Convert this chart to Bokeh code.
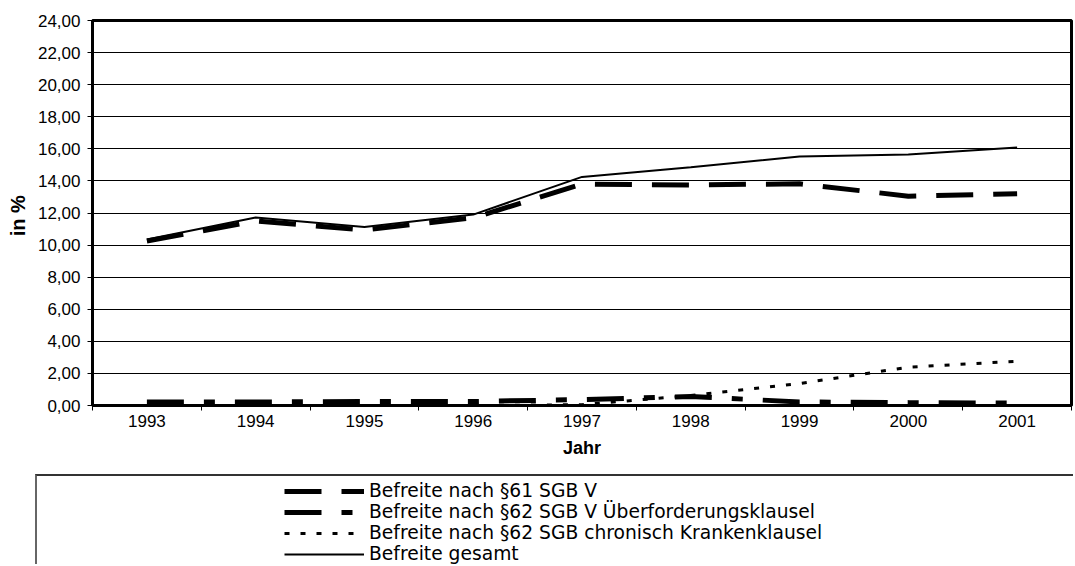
from bokeh.plotting import figure
from bokeh.models import Range1d, FixedTicker, Legend, LegendItem
from bokeh.layouts import column
from bokeh.embed import file_html
from bokeh.resources import INLINE

# ---- data ----
years = ["1993", "1994", "1995", "1996", "1997", "1998", "1999", "2000", "2001"]
s61 = [10.25, 11.50, 10.95, 11.70, 13.80, 13.75, 13.82, 13.05, 13.20]
s62_ueber = [0.22, 0.22, 0.25, 0.25, 0.37, 0.56, 0.22, 0.18, 0.15]
s62_chron = [0.00, 0.00, 0.00, 0.00, 0.05, 0.62, 1.37, 2.39, 2.76]
gesamt = [10.35, 11.72, 11.12, 11.90, 14.25, 14.85, 15.52, 15.65, 16.08]
y_ticks = list(range(0, 25, 2))
y_tick_labels = [f"{t:.2f}".replace(".", ",") for t in y_ticks]

names = [
    "Befreite nach §61 SGB V",
    "Befreite nach §62 SGB V Überforderungsklausel",
    "Befreite nach §62 SGB chronisch Krankenklausel",
    "Befreite gesamt",
]

FONT = "Liberation Sans"
xs = [i + 0.5 for i in range(len(years))]

p = figure(width=1075, height=474, output_backend="svg", toolbar_location=None,
           x_range=Range1d(0, len(years)), y_range=Range1d(0, 24),
           min_border_left=92, min_border_right=4, min_border_top=20,
           min_border_bottom=69)
p.background_fill_color = "white"
p.border_fill_color = "white"
p.outline_line_color = "black"
p.outline_line_width = 3

styles = [
    dict(line_width=5, line_dash="37 20"),
    dict(line_width=5, line_dash="37 20 11 20"),
    dict(line_width=3, line_dash="5 11"),
    dict(line_width=2, line_dash="solid"),
]
series = [s61, s62_ueber, s62_chron, gesamt]
for ys, st in zip(series, styles):
    p.line(xs, ys, line_color="black", **st)

# x axis: labels at category centres, ticks at category boundaries
xax = p.xaxis[0]
xax.ticker = FixedTicker(ticks=xs, minor_ticks=list(range(len(years) + 1)))
xax.major_label_overrides = {x: y for x, y in zip(xs, years)}
xax.major_tick_out = 0
xax.major_tick_in = 0
xax.minor_tick_out = 5
xax.minor_tick_in = 0
xax.minor_tick_line_color = "black"
xax.axis_line_width = 3
xax.axis_line_color = "black"
xax.major_label_text_font = FONT
xax.major_label_text_font_size = "17px"
xax.major_label_text_color = "black"
xax.major_label_standoff = 4
xax.axis_label = "Jahr"
xax.axis_label_text_font = FONT
xax.axis_label_text_font_size = "18px"
xax.axis_label_text_font_style = "bold"
xax.axis_label_text_color = "black"
xax.axis_label_standoff = 8

yax = p.yaxis[0]
yax.ticker = FixedTicker(ticks=y_ticks, minor_ticks=[])
yax.major_label_overrides = {t: l for t, l in zip(y_ticks, y_tick_labels)}
yax.major_tick_out = 5
yax.major_tick_in = 0
yax.major_tick_line_color = "black"
yax.axis_line_width = 3
yax.axis_line_color = "black"
yax.major_label_text_font = FONT
yax.major_label_text_font_size = "17px"
yax.major_label_text_color = "black"
yax.major_label_standoff = 7
yax.axis_label = "in  %"
yax.axis_label_text_font = FONT
yax.axis_label_text_font_size = "20px"
yax.axis_label_text_font_style = "bold"
yax.axis_label_text_color = "black"
yax.axis_label_standoff = 6

p.xgrid.grid_line_color = None
p.ygrid.ticker = FixedTicker(ticks=y_ticks)
p.ygrid.grid_line_color = "black"
p.ygrid.grid_line_width = 1

# ---- legend panel (box edges via CSS borders) ----
p2 = figure(width=1038, height=90, output_backend="svg", toolbar_location=None,
            x_range=Range1d(0, 1), y_range=Range1d(0, 1),
            x_axis_location=None, y_axis_location=None,
            min_border_left=92, min_border_right=0, min_border_top=0,
            min_border_bottom=0)
p2.styles = {"margin-left": "35px",
             "border-top": "2px solid #333333",
             "border-left": "2px solid #666666"}
p2.grid.visible = False
p2.outline_line_color = None
p2.background_fill_color = "white"
p2.border_fill_color = "white"

items = []
for name, st in zip(names, styles):
    r = p2.line([-2, -1], [-2, -1], line_color="black", **st)
    items.append(LegendItem(label=name, renderers=[r]))

leg = Legend(items=items, location=(155, 2), padding=0, margin=0,
             spacing=0, label_height=20, glyph_height=20, glyph_width=80,
             label_standoff=5, border_line_alpha=0, background_fill_alpha=0,
             label_text_font="DejaVu Sans", label_text_font_size="18.7px",
             label_text_color="black")
p2.add_layout(leg)

layout = column(p, p2, spacing=0)
open("out.html", "w").write(file_html(layout, INLINE))
